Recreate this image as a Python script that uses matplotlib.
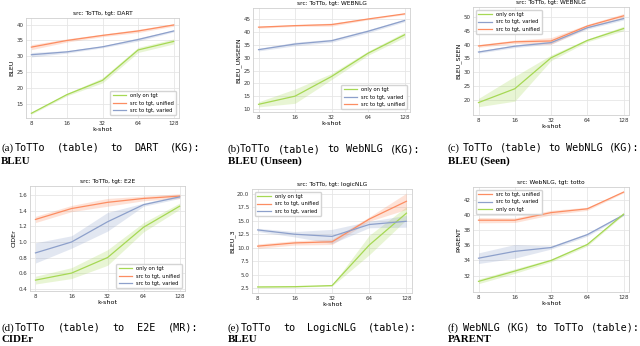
import numpy as np
import matplotlib.pyplot as plt

kshot = [8, 16, 32, 64, 128]

GREEN = '#a6d854'
ORANGE = '#fc8d62'
BLUE = '#8da0cb'

# (a) ToTTo -> DART, BLEU
dart_only = [12.0, 17.9, 22.4, 32.0, 34.7]
dart_unified = [32.9, 35.0, 36.6, 38.0, 39.9]
dart_varied = [30.5, 31.4, 33.0, 35.3, 38.0]
dart_only_sd = [0.3, 0.4, 0.8, 0.8, 0.8]
dart_unified_sd = [0.8, 0.5, 0.4, 0.5, 0.4]
dart_varied_sd = [0.7, 0.4, 0.3, 0.5, 0.3]

# (b) ToTTo -> WebNLG, BLEU unseen
unseen_only = [11.8, 15.0, 22.7, 31.8, 39.0]
unseen_varied = [33.2, 35.4, 36.7, 40.4, 44.6]
unseen_unified = [42.0, 42.6, 43.0, 45.2, 47.2]
unseen_only_sd = [1.0, 2.8, 1.2, 0.8, 1.0]
unseen_varied_sd = [0.5, 0.7, 0.6, 0.6, 0.5]
unseen_unified_sd = [0.4, 0.3, 0.6, 0.3, 0.3]

# (c) ToTTo -> WebNLG, BLEU seen
seen_only = [19.0, 24.0, 35.2, 41.5, 45.8]
seen_varied = [37.3, 39.4, 40.7, 46.1, 49.4]
seen_unified = [39.5, 41.0, 41.3, 46.7, 50.4]
seen_only_sd = [1.5, 4.5, 1.0, 0.5, 0.8]
seen_varied_sd = [0.4, 0.5, 0.5, 0.5, 0.5]
seen_unified_sd = [0.5, 0.6, 1.2, 0.6, 0.8]

# (d) ToTTo -> E2E, CIDEr
e2e_only = [0.51, 0.60, 0.80, 1.19, 1.46]
e2e_unified = [1.29, 1.43, 1.51, 1.56, 1.59]
e2e_varied = [0.86, 1.00, 1.26, 1.48, 1.58]
e2e_only_sd = [0.05, 0.07, 0.10, 0.06, 0.04]
e2e_unified_sd = [0.04, 0.04, 0.05, 0.03, 0.03]
e2e_varied_sd = [0.13, 0.08, 0.12, 0.02, 0.02]

# (e) ToTTo -> LogicNLG, BLEU_3
lnlg_only = [2.75, 2.8, 3.0, 10.5, 16.4]
lnlg_unified = [10.3, 10.9, 11.1, 15.3, 18.6]
lnlg_varied = [13.3, 12.5, 12.1, 14.3, 14.9]
lnlg_only_sd = [0.15, 0.1, 0.1, 1.8, 1.2]
lnlg_unified_sd = [0.4, 0.4, 0.5, 0.4, 1.5]
lnlg_varied_sd = [0.3, 0.5, 1.3, 0.6, 1.1]

# (f) WebNLG -> ToTTo, PARENT
totto_unified = [39.3, 39.3, 40.3, 40.8, 43.0]
totto_varied = [34.3, 35.2, 35.7, 37.4, 40.0]
totto_only = [31.25, 32.6, 34.0, 36.1, 40.1]
totto_unified_sd = [0.35, 0.3, 0.3, 0.2, 0.1]
totto_varied_sd = [0.7, 0.9, 0.2, 0.2, 0.1]
totto_only_sd = [0.3, 0.3, 0.2, 0.2, 0.1]

W, H = 640, 346
fig = plt.figure(figsize=(W / 100, H / 100), dpi=100)


def make_ax(l, t, r, b):
    ax = fig.add_axes([l / W, 1 - b / H, (r - l) / W, (b - t) / H])
    ax.set_xscale('log', base=2)
    ax.set_xticks(kshot)
    ax.set_xticklabels([str(k) for k in kshot])
    ax.minorticks_off()
    ax.grid(True, color='#e6e6e6', lw=0.6)
    ax.set_axisbelow(True)
    for s in ax.spines.values():
        s.set_color('#d0d0d0')
        s.set_linewidth(0.6)
    ax.tick_params(length=0, labelsize=4.0, pad=2, colors='#333333')
    ax.set_xlabel('k-shot', fontsize=4.6, labelpad=1)
    ax.set_xlim(7.2, 142)
    return ax


def band(ax, y, sd, color, label):
    y = np.array(y)
    sd = np.array(sd)
    ax.fill_between(kshot, y - sd, y + sd, color=color, alpha=0.25, lw=0)
    ax.plot(kshot, y, color=color, lw=0.9, label=label)


def legend(ax, loc):
    ax.legend(loc=loc, fontsize=3.7, frameon=True, framealpha=0.9,
              edgecolor='#d0d0d0', handlelength=2.6, borderpad=0.5,
              labelspacing=0.45, fancybox=True)


CH = 6.07  # monospace advance in px


def caption(x, x0, x1, y1, y2, tag, mono, bold):
    fig.text(x / W, 1 - y1 / H, tag, fontsize=7.8, family='Liberation Serif',
             va='center')
    # justified monospace words between x0 and x1
    words = mono.split(' ')
    used = sum(len(w) for w in words) * CH
    gap = (x1 - x0 - used) / (len(words) - 1)
    pos = x0
    for w in words:
        fig.text(pos / W, 1 - y1 / H, w, fontsize=7.26,
                 family='DejaVu Sans Mono', va='center')
        pos += len(w) * CH + gap
    fig.text(x / W, 1 - y2 / H, bold, fontsize=7.8, family='Liberation Serif',
             weight='bold', va='center')


# (a)
ax = make_ax(26, 18, 179, 118)
band(ax, dart_only, dart_only_sd, GREEN, 'only on tgt')
band(ax, dart_unified, dart_unified_sd, ORANGE, 'src to tgt, unified')
band(ax, dart_varied, dart_varied_sd, BLUE, 'src to tgt, varied')
ax.set_ylim(10.5, 42.1)
ax.set_yticks([15, 20, 25, 30, 35, 40])
ax.set_ylabel('BLEU', fontsize=4.6, labelpad=1)
ax.set_title('src: ToTTo, tgt: DART', fontsize=4.2, pad=2)
legend(ax, 'lower right')

# (b)
ax = make_ax(253, 8, 410, 112)
band(ax, unseen_only, unseen_only_sd, GREEN, 'only on tgt')
band(ax, unseen_varied, unseen_varied_sd, BLUE, 'src to tgt, varied')
band(ax, unseen_unified, unseen_unified_sd, ORANGE, 'src to tgt, unified')
ax.set_ylim(8.8, 49.5)
ax.set_yticks([10, 15, 20, 25, 30, 35, 40, 45])
ax.set_ylabel('BLEU_UNSEEN', fontsize=4.6, labelpad=1)
ax.set_title('src: ToTTo, tgt: WEBNLG', fontsize=4.2, pad=2)
legend(ax, 'lower right')

# (c)
ax = make_ax(473, 7, 629, 115)
band(ax, seen_only, seen_only_sd, GREEN, 'only on tgt')
band(ax, seen_varied, seen_varied_sd, BLUE, 'src to tgt, varied')
band(ax, seen_unified, seen_unified_sd, ORANGE, 'src to tgt, unified')
ax.set_ylim(14.5, 53.6)
ax.set_yticks([20, 25, 30, 35, 40, 45, 50])
ax.set_ylabel('BLEU_SEEN', fontsize=4.6, labelpad=1)
ax.set_title('src: ToTTo, tgt: WEBNLG', fontsize=4.2, pad=2)
legend(ax, 'upper left')

# (d)
ax = make_ax(30, 186, 185, 291)
band(ax, e2e_only, e2e_only_sd, GREEN, 'only on tgt')
band(ax, e2e_unified, e2e_unified_sd, ORANGE, 'src to tgt, unified')
band(ax, e2e_varied, e2e_varied_sd, BLUE, 'src to tgt, varied')
ax.set_ylim(0.37, 1.72)
ax.set_yticks([0.4, 0.6, 0.8, 1.0, 1.2, 1.4, 1.6])
ax.set_ylabel('CIDEr', fontsize=4.6, labelpad=1)
ax.set_title('src: ToTTo, tgt: E2E', fontsize=4.2, pad=2)
legend(ax, 'lower right')

# (e)
ax = make_ax(252, 189, 412, 293)
band(ax, lnlg_only, lnlg_only_sd, GREEN, 'only on tgt')
band(ax, lnlg_unified, lnlg_unified_sd, ORANGE, 'src to tgt, unified')
band(ax, lnlg_varied, lnlg_varied_sd, BLUE, 'src to tgt, varied')
ax.set_ylim(1.63, 20.87)
ax.set_yticks([2.5, 5.0, 7.5, 10.0, 12.5, 15.0, 17.5, 20.0])
ax.set_ylabel('BLEU_3', fontsize=4.6, labelpad=1)
ax.set_title('src: ToTTo, tgt: logicNLG', fontsize=4.2, pad=2)
legend(ax, 'upper left')

# (f)
ax = make_ax(473, 187, 629, 292)
band(ax, totto_unified, totto_unified_sd, ORANGE, 'src to tgt, unified')
band(ax, totto_varied, totto_varied_sd, BLUE, 'src to tgt, varied')
band(ax, totto_only, totto_only_sd, GREEN, 'only on tgt')
ax.set_ylim(29.85, 43.67)
ax.set_yticks([32, 34, 36, 38, 40, 42])
ax.set_ylabel('PARENT', fontsize=4.6, labelpad=1)
ax.set_title('src: WebNLG, tgt: totto', fontsize=4.2, pad=2)
legend(ax, 'upper left')

caption(1, 15, 200, 148, 161, '(a)', 'ToTTo (table) to DART (KG):', 'BLEU')
caption(228, 240, 420, 149, 161, '(b)', 'ToTTo (table) to WebNLG (KG):', 'BLEU (Unseen)')
caption(448, 463, 639, 148, 161, '(c)', 'ToTTo (table) to WebNLG (KG):', 'BLEU (Seen)')
caption(1, 15, 198, 328, 340, '(d)', 'ToTTo (table) to E2E (MR):', 'CIDEr')
caption(228, 241, 416, 328, 340, '(e)', 'ToTTo to LogicNLG (table):', 'BLEU')
caption(448, 463, 639, 328, 340, '(f)', 'WebNLG (KG) to ToTTo (table):', 'PARENT')

fig.savefig('out.png', dpi=100)
